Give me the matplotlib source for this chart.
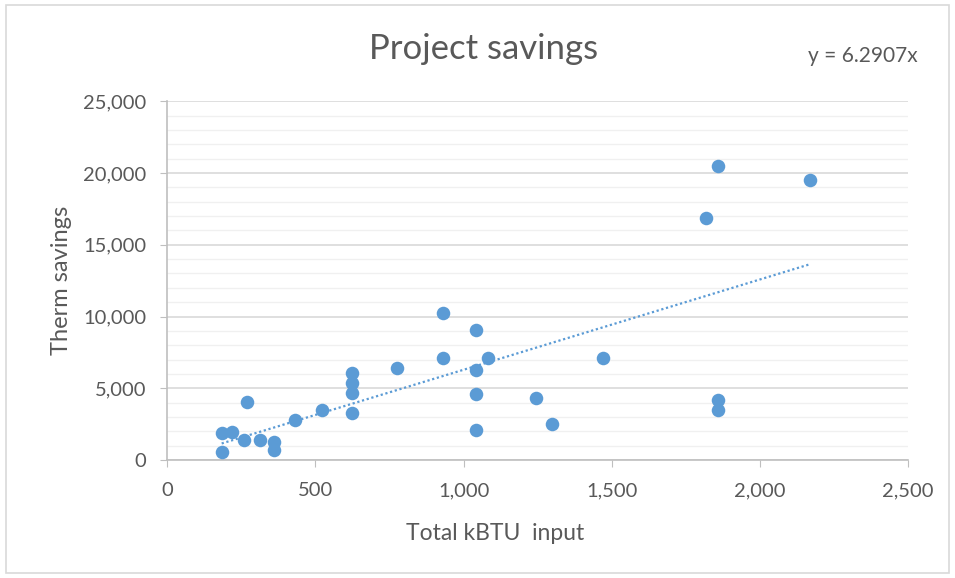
import matplotlib.pyplot as plt
import numpy as np
from matplotlib.ticker import FuncFormatter, MultipleLocator
from matplotlib.patches import Rectangle

plt.rcParams['font.family'] = ['Lato', 'DejaVu Sans']

# project data: total kBTU input vs therm savings
kbtu = [184, 218, 184, 258, 271, 312, 359, 359, 432, 522,
        623, 623, 623, 623, 777, 932, 932, 1041, 1084, 1041,
        1041, 1244, 1041, 1300, 1472, 1858, 1858, 1860, 2169, 1817]
therms = [1860, 1970, 580, 1390, 4060, 1390, 1280, 700, 2790, 3480,
          6040, 5340, 4650, 3250, 6390, 10220, 7080, 9050, 7080, 6270,
          4570, 4300, 2090, 2510, 7080, 4180, 3480, 20500, 19500, 16850]
slope = 6.2907

blue = '#5B9BD5'
grey_txt = '#595959'

fig = plt.figure(figsize=(9.55, 5.78), dpi=100)
fig.patches.append(Rectangle((0.006, 0.008), 0.988, 0.984, transform=fig.transFigure,
                             fill=False, edgecolor='#D9D9D9', linewidth=1.2))
ax = fig.add_axes([0.175, 0.204, 0.776, 0.621])

ax.scatter(kbtu, therms, s=95, color=blue, zorder=3, linewidths=0)

# linear trendline through origin
xt = np.array([min(kbtu), max(kbtu)])
ax.plot(xt, slope * xt, color=blue, linestyle=(0, (1, 1.2)), linewidth=1.6, zorder=2)

ax.set_xlim(0, 2500)
ax.set_ylim(0, 25000)
ax.xaxis.set_major_locator(MultipleLocator(500))
ax.yaxis.set_major_locator(MultipleLocator(5000))
ax.yaxis.set_minor_locator(MultipleLocator(1000))
fmt = FuncFormatter(lambda v, p: f'{int(v):,}')
ax.xaxis.set_major_formatter(fmt)
ax.yaxis.set_major_formatter(fmt)

ax.grid(axis='y', which='major', color='#D9D9D9', linewidth=1.2, zorder=0)
ax.grid(axis='y', which='minor', color='#F0F0F0', linewidth=1.0, zorder=0)
ax.set_axisbelow(True)

for s in ['top', 'right']:
    ax.spines[s].set_visible(False)
for s in ['left', 'bottom']:
    ax.spines[s].set_color('#BFBFBF')
    ax.spines[s].set_linewidth(1.2)
ax.tick_params(which='major', length=5, color='#BFBFBF', labelcolor=grey_txt,
               labelsize=14.5)
ax.tick_params(axis='y', pad=10)
ax.tick_params(axis='x', pad=11)
ax.tick_params(which='minor', length=0)

ax.set_xlabel('Total kBTU  input', fontsize=16.5, color=grey_txt, labelpad=14)
ax.xaxis.set_label_coords(0.443, -0.175)
ax.set_ylabel('Therm savings', fontsize=17, color=grey_txt, labelpad=8)
fig.text(0.506, 0.915, 'Project savings', fontsize=25, color=grey_txt,
         ha='center', va='center')
fig.text(0.903, 0.903, f'y = {slope}x', fontsize=15, color=grey_txt,
         ha='center', va='center')

fig.savefig('out.png', dpi=100, facecolor='white')
